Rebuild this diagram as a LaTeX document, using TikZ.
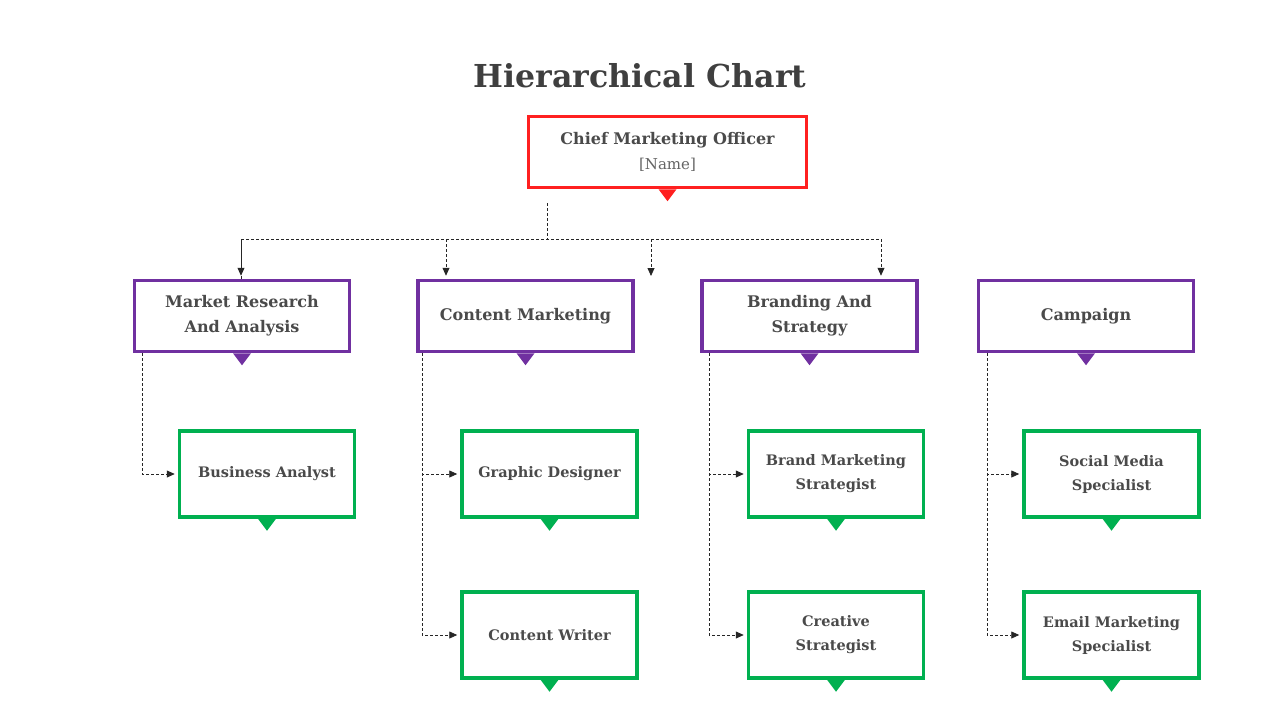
\documentclass[tikz,border=0pt]{standalone}
\usepackage{fontspec}
\setmainfont{DejaVu Serif}
\usetikzlibrary{arrows.meta,calc}
\definecolor{txt}{HTML}{4A4A4A}
\definecolor{ttl}{HTML}{3F3F3F}
\definecolor{redc}{HTML}{FF2020}
\definecolor{purc}{HTML}{7030A0}
\definecolor{grnc}{HTML}{00B050}
\definecolor{lnc}{HTML}{262626}
\tikzset{
  basebox/.style={draw, line width=3.5pt, fill=white, align=center, text=txt, inner sep=2pt},
  topbox/.style={basebox, draw=redc, minimum width=278pt, minimum height=71pt},
  midbox/.style={basebox, draw=purc, minimum width=215pt, minimum height=71pt, font=\fontsize{16}{25}\selectfont\bfseries},
  lowbox/.style={basebox, draw=grnc, minimum width=175pt, minimum height=86pt, font=\fontsize{14.5}{24}\selectfont\bfseries},
  conn/.style={draw=lnc, line width=0.8pt, dash pattern=on 3pt off 2pt, -{Triangle[length=8pt,width=7pt]}, shorten >=3pt},
  connplain/.style={draw=lnc, line width=0.8pt, dash pattern=on 3pt off 2pt},
}
\newcommand{\ptr}[2]{\fill[#2] ($(#1.south)+(-9,0)$) -- ($(#1.south)+(9,0)$) -- ($(#1.south)+(0,12)$) -- cycle;}
\begin{document}
\begin{tikzpicture}[x=1pt,y=-1pt]
\useasboundingbox (0,0) rectangle (1280,720);
\node[text=ttl, font=\fontsize{31.6}{38}\selectfont\bfseries] (title) at (640,76) {Hierarchical Chart};
% top
\node[topbox] (cmo) at (667.5,152) {{\fontsize{16}{22}\selectfont\bfseries Chief Marketing Officer}\\[9pt]{\fontsize{15}{20}\selectfont\color{txt!85} [Name]}};
\ptr{cmo}{redc}
% middle
\node[midbox] (mra) at (242,316) {Market Research\\And Analysis};
\node[midbox] (cm) at (525.5,316) {Content Marketing};
\node[midbox] (bas) at (809.5,316) {Branding And\\Strategy};
\node[midbox] (cam) at (1086,316) {Campaign};
\foreach \n in {mra,cm,bas,cam}{\ptr{\n}{purc}}
% lower
\node[lowbox] (ba) at (267,474) {Business Analyst};
\node[lowbox] (gd) at (549.5,474) {Graphic Designer};
\node[lowbox] (bms) at (836,474) {Brand Marketing\\Strategist};
\node[lowbox] (sms) at (1111.5,474) {Social Media\\Specialist};
\node[lowbox] (cw) at (549.5,635) {Content Writer};
\node[lowbox] (cs) at (836,635) {Creative\\Strategist};
\node[lowbox] (ems) at (1111.5,635) {Email Marketing\\Specialist};
\foreach \n in {ba,gd,bms,sms,cw,cs,ems}{\ptr{\n}{grnc}}
% top connectors
\coordinate (cmoout) at (547,203);
\coordinate (bus) at (547,239);
\coordinate (free) at (651,279);
\draw[connplain] (cmoout) -- (bus);
\draw[connplain] (mra.north -| 241,0) |- (bus -| 881,0);
\draw[conn] (241,239) -- (mra.north -| 241,0);
\draw[conn] (446,239) -- (cm.north -| 446,0);
\draw[conn] (651,239) -- (free);
\draw[conn] (881,239) -- (bas.north -| 881,0);
% side connectors
\draw[conn] (mra.south -| 142,0) |- (ba.west);
\draw[connplain] (cm.south -| 422,0) -- (422,636);
\draw[conn] (cm.south -| 422,0) |- (gd.west);
\draw[conn] (cm.south -| 422,0) |- (cw.west);
\draw[conn] (bas.south -| 709,0) |- (bms.west);
\draw[conn] (bas.south -| 709,0) |- (cs.west);
\draw[conn] (cam.south -| 987,0) |- (sms.west);
\draw[conn] (cam.south -| 987,0) |- (ems.west);
\end{tikzpicture}
\end{document}
